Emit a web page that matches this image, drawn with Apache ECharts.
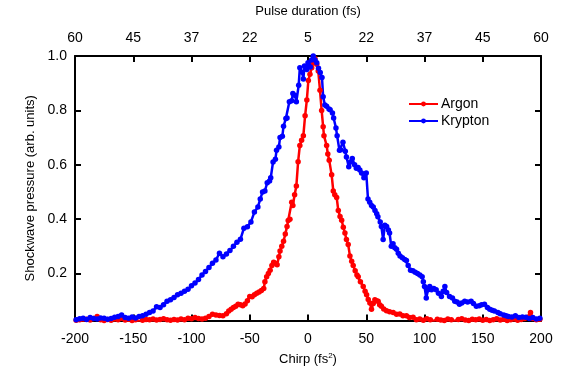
<!DOCTYPE html>
<html>
<head>
<meta charset="utf-8">
<script src="https://cdn.jsdelivr.net/npm/echarts@6/dist/echarts.min.js"></script>
<style>
  html, body { margin: 0; padding: 0; background: #fff; }
  #chart { width: 581px; height: 371px; }
</style>
</head>
<body>
<div id="chart"></div>
<script>
// [chirp (fs^2), shockwave pressure]
const argonPoints = [
  [-199,0.028],[-196,0.030],[-193,0.026],[-190,0.032],[-187,0.029],[-184,0.035],[-181,0.042],[-178,0.030],
  [-175,0.027],[-172,0.031],[-169,0.028],[-166,0.033],[-163,0.030],[-160,0.036],[-157,0.029],[-154,0.032],
  [-151,0.027],[-148,0.030],[-145,0.025],[-142,0.028],[-139,0.031],[-136,0.030],[-133,0.033],[-130,0.029],
  [-127,0.031],[-124,0.034],[-121,0.030],[-118,0.028],[-115,0.031],[-112,0.029],[-109,0.033],[-106,0.030],
  [-103,0.036],[-100,0.034],[-97,0.038],[-94,0.035],[-91,0.033],[-88,0.036],[-85,0.042],[-82,0.050],
  [-79,0.048],[-76,0.046],[-73,0.045],[-70,0.052],[-68,0.062],[-66,0.069],[-64,0.075],[-62,0.080],
  [-60,0.087],[-58,0.085],[-56,0.082],[-54,0.088],[-52,0.100],[-50,0.116],[-48,0.115],[-46,0.122],
  [-44,0.128],[-42,0.132],[-40,0.138],[-38,0.145],[-37,0.170],[-35.5,0.188],[-34,0.200],[-32.5,0.212],
  [-31,0.230],[-29.5,0.242],[-28,0.238],[-26.5,0.232],[-25,0.262],[-24,0.283],[-22.5,0.300],[-21,0.319],
  [-19.5,0.345],[-18,0.373],[-17,0.395],[-15.5,0.400],[-14,0.462],[-13,0.450],[-11.5,0.490],[-10,0.522],
  [-8.5,0.611],[-7,0.671],[-5.5,0.690],[-4,0.707],[-2.5,0.780],[-1,0.838],[0.3,0.910],[1.7,0.933],
  [3.2,0.957],[4.5,0.975],[6,0.990],[7.5,0.970],[8.8,0.945],[10.3,0.874],[11.7,0.800],[13,0.740],
  [13.7,0.707],[16,0.671],[17,0.640],[18.2,0.617],[20.3,0.563],[21.7,0.504],[23,0.490],[24.6,0.480],
  [26,0.432],[27.5,0.410],[28.9,0.396],[30.3,0.370],[31.7,0.349],[33,0.325],[34.5,0.307],[36,0.265],
  [37.5,0.245],[38.8,0.230],[40.5,0.210],[42,0.195],[43.1,0.188],[45,0.170],[47.4,0.152],[49,0.135],
  [50.3,0.122],[51.7,0.105],[53.1,0.092],[54.5,0.069],[56,0.090],[57.4,0.104],[58.8,0.100],[60.2,0.098],
  [61.5,0.085],[63,0.080],[65,0.070],[67.4,0.063],[70,0.060],[73.1,0.057],[76,0.050],[78.8,0.051],
  [81.5,0.045],[84.5,0.045],[87,0.038],[90.2,0.039],[93,0.030],[95.9,0.033],[99,0.028],[102,0.034],
  [105,0.030],[108,0.026],[111,0.032],[114,0.029],[117,0.027],[120,0.033],[123,0.030],[126,0.026],
  [129,0.031],[132,0.034],[135,0.029],[138,0.027],[141,0.032],[144,0.030],[147,0.033],[150,0.028],
  [153,0.031],[156,0.027],[159,0.030],[162,0.034],[165,0.029],[168,0.032],[171,0.027],[174,0.030],
  [177,0.033],[180,0.028],[183,0.031],[186,0.035],[189,0.040],[191,0.057],[193,0.035],[196,0.030],[199,0.032]
];

const kryptonPoints = [
  [-199,0.030],[-196,0.034],[-193,0.036],[-190,0.031],[-187,0.038],[-184,0.035],[-181,0.033],[-178,0.037],
  [-175,0.036],[-172,0.032],[-169,0.035],[-166,0.039],[-163,0.042],[-160,0.048],[-157,0.038],[-154,0.036],
  [-151,0.040],[-148,0.037],[-145,0.042],[-142,0.045],[-139,0.050],[-136,0.057],[-133,0.062],[-130,0.078],
  [-127,0.075],[-124,0.085],[-121,0.098],[-118,0.104],[-115,0.112],[-112,0.122],[-109,0.128],[-106,0.135],
  [-103,0.142],[-100,0.155],[-97,0.165],[-94,0.178],[-91,0.195],[-88,0.208],[-85,0.222],[-82,0.238],
  [-79,0.250],[-76,0.275],[-73,0.262],[-70,0.272],[-67,0.285],[-64,0.300],[-61,0.315],[-58,0.326],
  [-55,0.367],[-52,0.372],[-49,0.390],[-46,0.426],[-43,0.445],[-41,0.474],[-39,0.500],[-37,0.504],
  [-35,0.534],[-33,0.540],[-32,0.552],[-30,0.610],[-28,0.620],[-27,0.653],[-25,0.665],[-24,0.700],
  [-22,0.705],[-21,0.742],[-19,0.770],[-18,0.772],[-16,0.832],[-14,0.835],[-13,0.862],[-11,0.855],
  [-10,0.832],[-8,0.892],[-7,0.957],[-5,0.940],[-4,0.915],[-3,0.963],[-1,0.950],[0,0.975],
  [2,0.960],[3,0.985],[4.5,1.0],[6,0.985],[7.5,0.975],[9,0.955],[10.5,0.939],[12,0.921],
  [13,0.850],[14.5,0.820],[16,0.815],[18,0.805],[19,0.802],[21,0.790],[22,0.772],[24,0.735],
  [25,0.707],[27,0.653],[28,0.655],[30,0.683],[32,0.650],[33,0.629],[35,0.593],[36.5,0.610],
  [38,0.623],[40,0.600],[41.5,0.587],[43,0.590],[44.5,0.581],[46,0.570],[48,0.552],[50,0.570],
  [51.5,0.474],[53,0.462],[54.5,0.450],[56,0.445],[57.5,0.432],[59,0.420],[60,0.409],[62,0.390],
  [63,0.373],[64.5,0.325],[66,0.378],[67.5,0.373],[69,0.360],[70,0.349],[71.5,0.300],[73,0.310],
  [74.5,0.295],[76,0.289],[77.5,0.275],[79,0.265],[81,0.258],[83,0.252],[84.5,0.248],[86,0.230],
  [88,0.212],[90,0.210],[92,0.205],[94,0.200],[96,0.195],[98,0.188],[99,0.170],[100,0.152],
  [101.5,0.110],[103,0.140],[104.5,0.152],[106,0.140],[108,0.145],[110,0.140],[112,0.128],[114.5,0.116],
  [116,0.135],[117.5,0.152],[119,0.130],[121.5,0.116],[124,0.110],[126,0.098],[128,0.095],[130,0.087],
  [132,0.092],[134.5,0.098],[137,0.095],[140,0.098],[142,0.090],[144.5,0.080],[147,0.082],[149,0.085],
  [151.5,0.087],[154,0.075],[156,0.069],[158,0.065],[160,0.062],[163,0.057],[165,0.052],[168,0.048],
  [170,0.045],[172,0.042],[175,0.040],[178,0.045],[181,0.038],[184,0.040],[187,0.039],[190,0.035],
  [193,0.038],[196,0.033],[199,0.036]
];

// top axis: pulse duration at each chirp tick (-200 ... 200)
const pulseLabels = ['60', '45', '37', '22', '5', '22', '37', '45', '60'];
const pressureTicks = [0.2, 0.4, 0.6, 0.8, 1.0];

const font = "'Liberation Sans', Arial, sans-serif";
const axisLine = { show: true, onZero: false, lineStyle: { color: '#000', width: 2 } };
const tickIn = { show: true, inside: true, length: 6, lineStyle: { color: '#000', width: 2 } };

const chart = echarts.init(document.getElementById('chart'));
chart.setOption({
  animation: false,
  textStyle: { fontFamily: font },
  grid: { left: 75, right: 40, top: 53, bottom: 46 },
  legend: {
    left: 403, top: 92, orient: 'vertical', itemGap: 3,
    itemWidth: 29, itemHeight: 6,
    textStyle: { fontSize: 14, color: '#000', fontFamily: font, padding: [0, 0, 0, -2] },
    data: ['Argon', 'Krypton']
  },
  xAxis: [{
    type: 'value', position: 'bottom', min: -200, max: 200, interval: 50,
    name: 'Chirp (fs{sup|2})', nameLocation: 'middle', nameGap: 30,
    nameTextStyle: { fontSize: 13, color: '#000', rich: { sup: { fontSize: 8, verticalAlign: 'top', padding: [0, 0, 8, 0] } } },
    axisLine: axisLine, axisTick: tickIn,
    axisLabel: { fontSize: 14, color: '#000', margin: 12 },
    splitLine: { show: false }
  }, {
    type: 'value', position: 'top', min: -200, max: 200, interval: 50,
    name: 'Pulse duration (fs)', nameLocation: 'middle', nameGap: 38,
    nameTextStyle: { fontSize: 13, color: '#000' },
    axisLine: axisLine, axisTick: tickIn,
    axisLabel: { fontSize: 14, color: '#000', margin: 11,
      formatter: v => pulseLabels[Math.round((v + 200) / 50)] },
    splitLine: { show: false }
  }],
  yAxis: [{
    type: 'value', position: 'left', min: 0.027, max: 1.0,
    name: 'Shockwave pressure (arb. units)', nameLocation: 'middle', nameGap: 38,
    nameTextStyle: { fontSize: 13, color: '#000' },
    axisLine: axisLine,
    axisTick: Object.assign({ customValues: pressureTicks }, tickIn),
    axisLabel: { fontSize: 14, color: '#000', margin: 8, customValues: pressureTicks,
      formatter: v => v.toFixed(1) },
    splitLine: { show: false }
  }, {
    type: 'value', position: 'right', min: 0.027, max: 1.0,
    axisLine: axisLine,
    axisTick: Object.assign({ customValues: pressureTicks }, tickIn),
    axisLabel: { show: false },
    splitLine: { show: false }
  }],
  series: [{
    name: 'Argon', type: 'line', data: argonPoints,
    symbol: 'circle', symbolSize: 5.5,
    itemStyle: { color: '#ff0000' }, lineStyle: { color: '#ff0000', width: 2.5 }
  }, {
    name: 'Krypton', type: 'line', data: kryptonPoints,
    symbol: 'circle', symbolSize: 5.5,
    itemStyle: { color: '#0000ff' }, lineStyle: { color: '#0000ff', width: 2.5 }
  }]
});
</script>
</body>
</html>
